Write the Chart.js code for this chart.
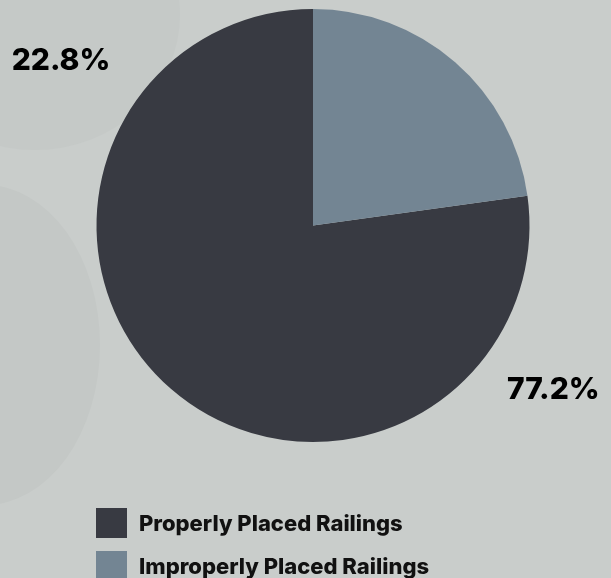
<!DOCTYPE html>
<html>
<head>
<meta charset="utf-8">
<script src="https://cdn.jsdelivr.net/npm/chart.js@4/dist/chart.umd.min.js"></script>
<style>
  html, body { margin: 0; padding: 0; }
  body { width: 611px; height: 578px; overflow: hidden; position: relative; background: #c9cdcb; }
  .bg { position: absolute; border-radius: 50%; }
  #wrap { position: absolute; left: 0; top: 0; width: 611px; height: 578px; }
</style>
</head>
<body>
<div class="bg" style="left:-110px; top:-120px; width:290px; height:270px; background:#c5c9c7;"></div>
<div class="bg" style="left:-130px; top:185px; width:230px; height:320px; background:#c4c8c6;"></div>
<div id="wrap"><canvas id="c" width="611" height="578"></canvas></div>
<script>
const categories = ['Properly Placed Railings', 'Improperly Placed Railings'];
const values = [77.2, 22.8];
const valueLabels = ['77.2%', '22.8%'];
const colors = ['#383a42', '#738593'];

const total = values.reduce((a, b) => a + b, 0);
const FONT = 'Inter, "DejaVu Sans", sans-serif';

// percentage labels offset from the pie center, in units of the radius
const labelOffsets = [[1.11, 0.762], [-1.164, -0.762]];

const extras = {
  id: 'extras',
  afterDraw(chart) {
    const ctx = chart.ctx;
    const arc = chart.getDatasetMeta(0).data[0];
    const cx = arc.x, cy = arc.y, r = arc.outerRadius;
    ctx.save();
    ctx.fillStyle = '#000';
    ctx.font = '800 30px ' + FONT;
    ctx.textAlign = 'center';
    ctx.textBaseline = 'middle';
    valueLabels.forEach((t, i) => {
      ctx.fillText(t, cx + labelOffsets[i][0] * r, cy + labelOffsets[i][1] * r);
    });
    // legend
    const lx = 96, ly0 = 508, step = 43, bw = 31, bh = 30;
    ctx.textAlign = 'left';
    ctx.font = '800 22px ' + FONT;
    categories.forEach((c, i) => {
      const y = ly0 + i * step;
      ctx.fillStyle = colors[i];
      ctx.fillRect(lx, y, bw, bh);
      ctx.fillStyle = '#111';
      ctx.fillText(c, 139, y + bh / 2 + 1);
    });
    ctx.restore();
  }
};

new Chart(document.getElementById('c'), {
  type: 'pie',
  data: {
    labels: categories,
    datasets: [{
      data: values,
      backgroundColor: colors,
      borderWidth: 0,
      hoverOffset: 0
    }]
  },
  options: {
    responsive: false,
    animation: false,
    rotation: values[1] / total * 360,
    layout: { padding: { left: 96, right: 81, top: 9, bottom: 136 } },
    plugins: {
      legend: { display: false },
      tooltip: { enabled: false }
    }
  },
  plugins: [extras]
});
</script>
</body>
</html>
